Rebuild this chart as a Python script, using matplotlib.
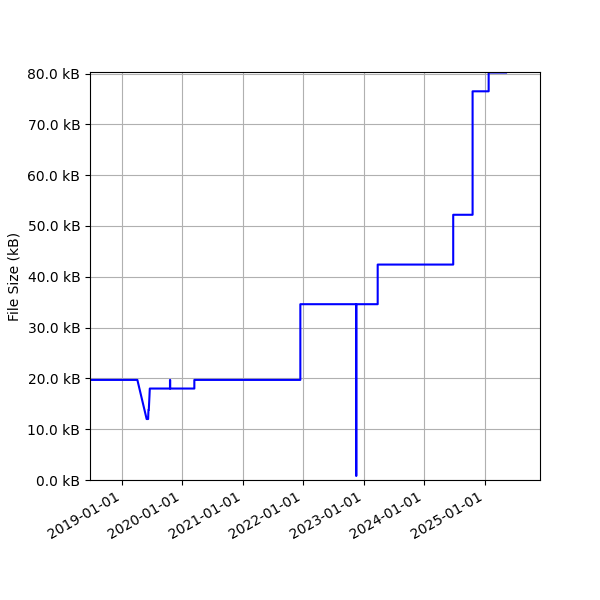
import matplotlib
matplotlib.use("Agg")
import matplotlib.pyplot as plt
import matplotlib.dates as mdates
from matplotlib.ticker import FuncFormatter
import pandas as pd

dates = ["2018-06-20", "2019-04-06", "2019-06-01", "2019-06-10", "2019-06-12", "2019-06-14",
         "2019-06-18", "2019-06-20", "2019-07-05", "2019-10-20", "2019-10-20", "2019-10-21",
         "2019-10-21", "2020-03-15", "2020-03-15", "2021-12-15", "2021-12-15", "2022-11-17",
         "2022-11-17", "2022-11-18", "2022-11-18", "2023-03-27", "2023-03-27", "2024-06-25",
         "2024-06-25", "2024-10-20", "2024-10-20", "2025-01-25", "2025-01-25", "2025-05-10"]
sizes_kb = [19.7, 19.7, 12.0, 12.0, 13.8, 13.8,
            16.5, 18.0, 18.0, 18.0, 19.7, 19.7,
            18.0, 18.0, 19.7, 19.7, 34.6, 34.6,
            0.8, 0.8, 34.6, 34.6, 42.4, 42.4,
            52.2, 52.2, 76.5, 76.5, 80.2, 80.2]

x = pd.to_datetime(dates)
fig = plt.figure(figsize=(6, 6), dpi=100)
ax = fig.add_axes([0.15, 0.2, 0.75, 0.68])
ax.plot(x, sizes_kb, color="blue", linewidth=1.5)
ax.set_xlim(pd.Timestamp("2018-06-24"), pd.Timestamp("2025-12-01"))
ax.set_ylim(0, 80.3)
ax.yaxis.set_major_formatter(FuncFormatter(lambda v, p: f"{v:.1f} kB"))
ax.set_yticks([0, 10, 20, 30, 40, 50, 60, 70, 80])
ax.xaxis.set_major_locator(mdates.YearLocator())
ax.xaxis.set_major_formatter(mdates.DateFormatter("%Y-%m-%d"))
for lab in ax.get_xticklabels():
    lab.set_rotation(30)
    lab.set_ha("right")
ax.set_ylabel("File Size (kB)")
ax.grid(True)
fig.savefig("out.png")
